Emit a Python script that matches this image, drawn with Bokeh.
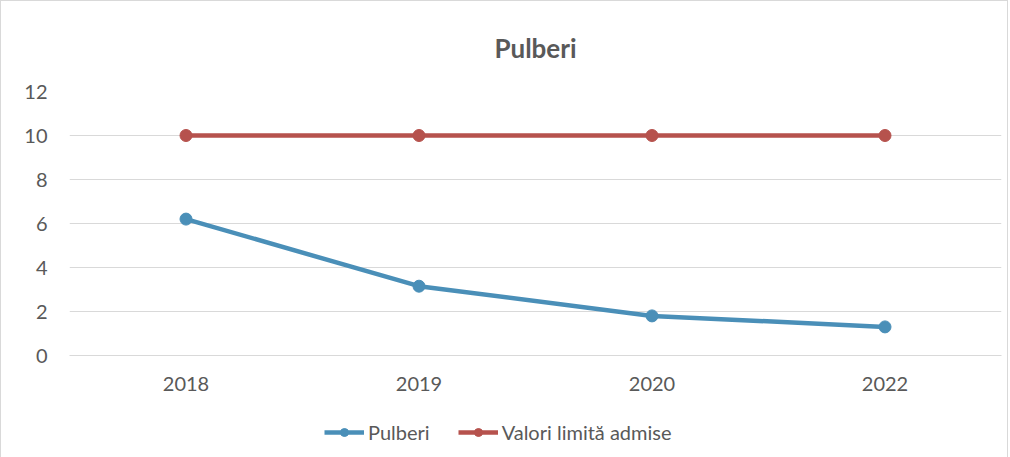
from bokeh.plotting import figure
from bokeh.models import Legend, LegendItem, FixedTicker, Range1d, Title
from bokeh.layouts import column
from bokeh.embed import file_html
from bokeh.resources import INLINE

years = ["2018", "2019", "2020", "2022"]
pulberi = [6.2, 3.15, 1.8, 1.3]
limita = [10, 10, 10, 10]
y_ticks = [0, 2, 4, 6, 8, 10, 12]
series_names = ["Pulberi", "Valori limită admise"]

BLUE = "#4a8fb8"
RED = "#b6524d"
FONT = "Lato"
TXT = "#595959"

p = figure(frame_width=932, frame_height=264, x_range=years, y_range=Range1d(0, 12),
           output_backend="svg", toolbar_location=None,
           min_border_left=68, min_border_right=6, min_border_top=90,
           min_border_bottom=50)
p.outline_line_color = None
p.x_range.range_padding = 0

t = Title(text="Pulberi", align="center", text_font=FONT, text_font_size="26px",
          text_font_style="bold", text_color=TXT, standoff=55)
p.add_layout(t, "above")

p.xgrid.grid_line_color = None
p.ygrid.grid_line_color = "#d9d9d9"
p.ygrid.grid_line_width = 1
p.yaxis.ticker = FixedTicker(ticks=y_ticks)

for ax in (p.xaxis, p.yaxis):
    ax.axis_line_color = None
    ax.major_tick_line_color = None
    ax.minor_tick_line_color = None
    ax.major_label_text_font = FONT
    ax.major_label_text_font_size = "20px"
    ax.major_label_text_color = TXT
p.xaxis.axis_line_color = "#d9d9d9"
p.xaxis.major_label_standoff = 15
p.yaxis.major_label_standoff = 16

p.line(years, pulberi, line_color=BLUE, line_width=4.5)
p.scatter(years, pulberi, size=12, fill_color=BLUE, line_color=BLUE)
p.line(years, limita, line_color=RED, line_width=4.5)
p.scatter(years, limita, size=12, fill_color=RED, line_color=RED)

# separate strip for the legend, below the chart (series drawn out of view,
# only their legend glyphs show)
lg = figure(width=1006, height=53, x_range=years, y_range=Range1d(100, 101),
            output_backend="svg", toolbar_location=None,
            min_border=0, min_border_left=0, min_border_right=0,
            min_border_top=0, min_border_bottom=0)
lg.axis.visible = False
lg.grid.visible = False
lg.outline_line_color = None

items = []
for name, col, vals in zip(series_names, [BLUE, RED], [pulberi, limita]):
    rl = lg.line(years, vals, line_color=col, line_width=4.5)
    rs = lg.scatter(years, vals, size=11, fill_color=col, line_color=col)
    items.append(LegendItem(label=name, renderers=[rl, rs]))

legend = Legend(items=items, orientation="horizontal", location=(255, 14),
                label_text_font=FONT, label_text_font_size="20px",
                label_text_color=TXT, border_line_color=None,
                background_fill_alpha=0, label_height=20, glyph_height=20,
                glyph_width=40, spacing=28, margin=0, padding=2, label_standoff=4)
lg.add_layout(legend, "center")

layout = column(p, lg, spacing=0)
layout.styles = {"border": "1px solid #d9d9d9"}

open("out.html", "w").write(file_html(layout, INLINE))
